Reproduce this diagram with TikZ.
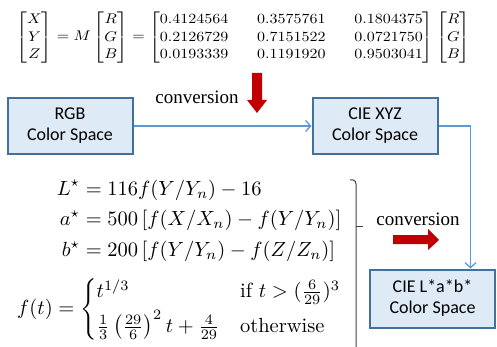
\documentclass[tikz,border=0pt]{standalone}
\usepackage{fontspec}
\usepackage{amsmath}
\usetikzlibrary{calc}
\usetikzlibrary{positioning}
\usetikzlibrary{arrows.meta}
\usepackage{xcolor}

\newfontfamily\boxfont{Carlito}
\newfontfamily\convfont{Liberation Serif}

\definecolor{boxedge}{HTML}{41719C}
\definecolor{boxfill}{HTML}{DEEBF7}
\definecolor{linkblue}{HTML}{5B9BD5}
\definecolor{convred}{HTML}{C00000}
\definecolor{bracegray}{HTML}{404040}

\begin{document}
\begin{tikzpicture}[x=1pt, y=-1pt, >={Straight Barb[length=5pt,width=11pt]},
    cspace/.style={draw=boxedge, fill=boxfill, line width=2pt, minimum width=125pt,
      minimum height=56pt, inner sep=0pt, align=center,
      font=\boxfont\fontsize{18}{21}\selectfont},
    link/.style={draw=linkblue, line width=1.3pt, ->},
    convlabel/.style={font=\convfont\fontsize{19}{22}\selectfont, inner sep=0pt}]

      \useasboundingbox (0,0) rectangle (497,347);

      % matrix equation
      \node [name=rgb2xyz, xscale=1.6, yscale=1.4] at (243.5,37.5)
      {\renewcommand{\arraystretch}{1.05}%
        $\delimiterfactor=850
        \begin{bmatrix}X\\Y\\Z\end{bmatrix} = M\begin{bmatrix}R\\G\\B\end{bmatrix}
        = {\arraycolsep=9pt \begin{bmatrix}0.4124564 & 0.3575761 & 0.1804375\\
          0.2126729 & 0.7151522 & 0.0721750\\
          0.0193339 & 0.1191920 & 0.9503041\end{bmatrix}}
        \begin{bmatrix}R\\G\\B\end{bmatrix}$};

      % color spaces
      \node [cspace, name=rgb] at (70,126) {RGB\\Color Space};
      \node [cspace, name=xyz] at (375,126) {CIE XYZ\\Color Space};
      \node [cspace, name=lab, minimum height=58pt] at (432.5,298.5) {CIE L*a*b*\\Color Space};

      \coordinate (corner) at ($(xyz.east) + (32,0)$);
      \draw [link] (rgb) -- (xyz);
      \draw [link] (xyz.east) -- (corner) -- (corner |- lab.north);

      % conversion 1: down arrow
      \node [convlabel, name=conv1] at (197,97) {conversion};
      \fill [convred] (252,73) -- (262,73) -- (262,100) -- (267,100) -- (257,113)
      -- (247,100) -- (252,100) -- cycle;

      % Lab formulas
      \node [name=labeq, scale=2.05] at (199,221)
      {$\begin{aligned}
          L^\star &= 116 f(Y/Y_n) - 16\\
          a^\star &= 500\left[f(X/X_n) - f(Y/Y_n)\right]\\
          b^\star &= 200\left[f(Y/Y_n) - f(Z/Z_n)\right]
        \end{aligned}$};
      \node [name=ftdef, scale=2.05, anchor=west] at (10,309)
      {$f(t) = \begin{cases}
          t^{1/3} & \text{if } t > (\frac{6}{29})^3\\[2pt]
          \frac{1}{3}\left(\frac{29}{6}\right)^2 t + \frac{4}{29} & \text{otherwise}
        \end{cases}$};

      % bracket
      \draw [bracegray, line width=1pt] (350,180) -- (353,180) to[out=0,in=90] (356,184)
      -- (356,347);
      \draw [bracegray, line width=1pt] (356,226) -- (363,226);

      % conversion 2: right arrow
      \node [convlabel, name=conv2] at (418,219) {conversion};
      \fill [convred] (393,235) -- (428,235) -- (428,229) -- (439,240) -- (428,250)
      -- (428,244) -- (393,244) -- cycle;

\end{tikzpicture}
\end{document}
